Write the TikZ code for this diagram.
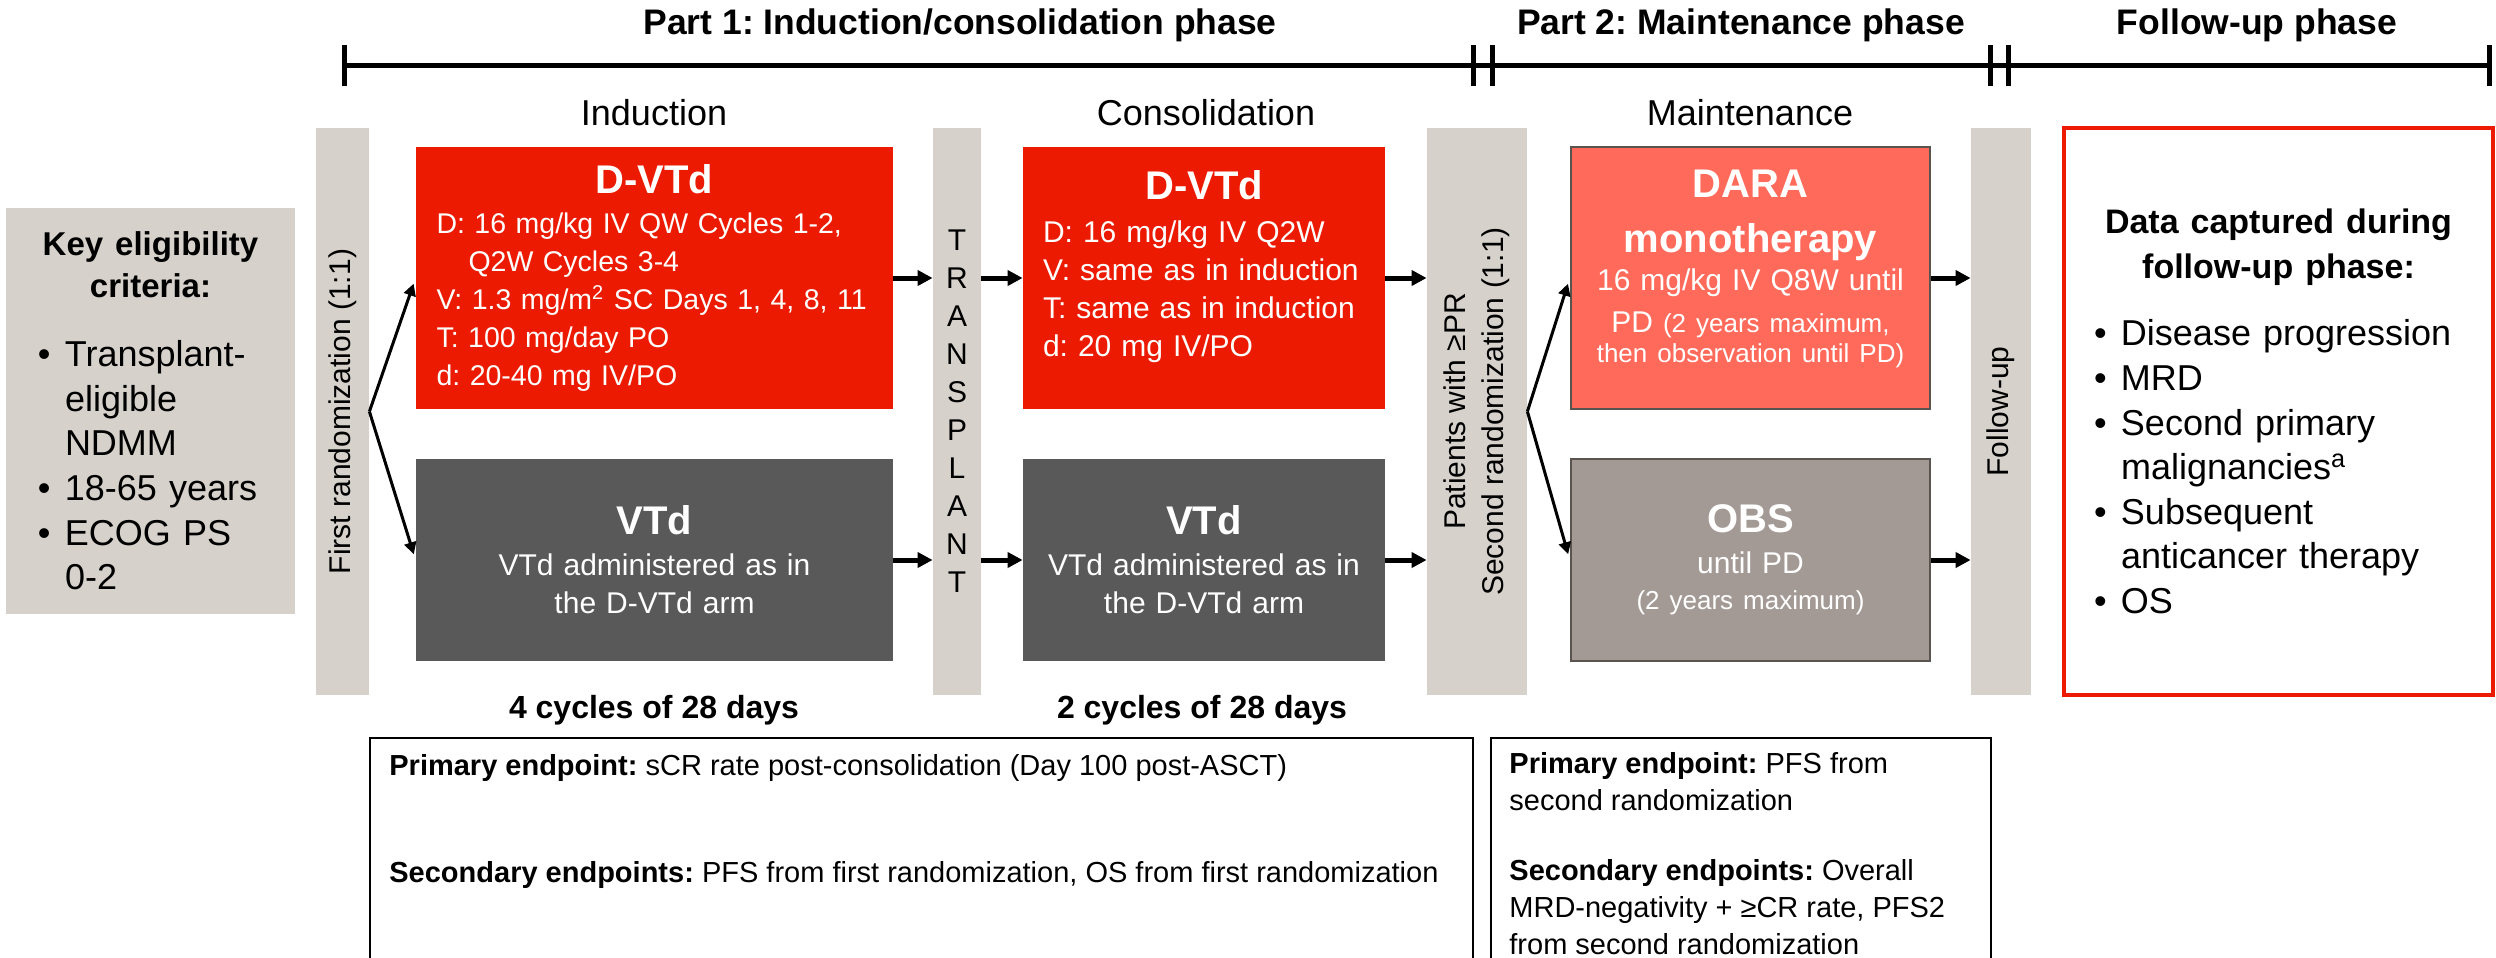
\documentclass[tikz,border=0pt]{standalone}
\usepackage{fontspec}
\setmainfont{Liberation Sans}
\usepackage{tikz}
\usetikzlibrary{arrows.meta}
\frenchspacing

\definecolor{jred}{RGB}{235,26,0}
\definecolor{barfill}{RGB}{214,209,203}
\definecolor{armgray}{RGB}{89,89,89}
\definecolor{darafill}{RGB}{255,106,90}
\definecolor{obsfill}{RGB}{163,154,149}
\definecolor{edgegray}{RGB}{90,84,80}

\newcommand{\bodyfont}{\fontsize{15}{19}\selectfont}
\newcommand{\boxtitle}{\fontsize{20}{24}\selectfont\bfseries}
\newcommand{\smallfont}{\fontsize{13}{15}\selectfont}
\newcommand{\headfont}{\fontsize{18}{22}\selectfont}
\newcommand{\phasefont}{\fontsize{17.75}{21}\selectfont\bfseries}
\newcommand{\cyclefont}{\fontsize{16}{20}\selectfont\bfseries}
\newcommand{\keyfont}{\fontsize{16.5}{21}\selectfont\bfseries}
\newcommand{\listfont}{\fontsize{18}{22.3}\selectfont}
\newcommand{\barfont}{\fontsize{15}{19}\selectfont}
\newcommand{\epfont}{\fontsize{14.5}{18.5}\selectfont}
\newcommand{\bul}{\makebox[13.5pt][l]{\textbullet}}

\tikzset{
  phase/.style   = {font=\phasefont, inner sep=0pt},
  stage/.style   = {font=\headfont, inner sep=0pt},
  cycles/.style  = {font=\cyclefont, inner sep=0pt},
  bar/.style     = {fill=barfill, inner sep=0pt, minimum height=283.5pt,
                    font=\barfont, align=center},
  arm/.style     = {inner sep=0pt, text=white, font=\bodyfont},
  toparm/.style  = {arm, minimum height=131pt},
  lowarm/.style  = {arm, minimum height=101pt, align=center},
  infobox/.style = {inner sep=0pt, font=\listfont, align=left},
  epbox/.style   = {draw, line width=1pt, inner sep=0pt},
  eptext/.style  = {inner sep=0pt, font=\epfont, align=left, anchor=north west},
  flow/.style    = {line width=2.5pt, -{Triangle[length=7.5pt,width=7.5pt]}},
  split/.style   = {line width=1.5pt, -{Triangle[length=6pt,width=6pt]},
                    shorten >=3pt},
  bracket/.style = {line width=2.5pt}
}

\begin{document}
\begin{tikzpicture}[x=0.5pt,y=-0.5pt]
 \useasboundingbox (0,0) rectangle (2496,958);
 \clip (0,0) rectangle (2496,958);

 % phase titles and time line
 \node[phase] (p1) at (960,25) {Part 1: Induction/consolidation phase};
 \node[phase] (p2) at (1741,25) {Part 2: Maintenance phase};
 \node[phase] (p3) at (2257,25) {Follow-up phase};
 \draw[bracket] (344,65) -- (2489,65);
 \draw[bracket] (344,45) -- (344,86) (1473,45) -- (1473,86)
   (1492,45) -- (1492,86) (1990,45) -- (1990,86)
   (2008,45) -- (2008,86) (2489,45) -- (2489,86);

 \node[stage] (ind) at (654,113) {Induction};
 \node[stage] (con) at (1206,113) {Consolidation};
 \node[stage] (mnt) at (1750,113) {Maintenance};

 % eligibility
 \node[infobox, fill=barfill, minimum width=144.5pt, minimum height=203pt,
       text width=144.5pt] (key) at (150.5,411) {%
   {\centering\keyfont Key eligibility\\criteria:\par}\vspace{12.2pt}
   \hspace*{16pt}\bul Transplant-\\
   \hspace*{29.5pt}eligible\\
   \hspace*{29.5pt}NDMM\\
   \hspace*{16pt}\bul 18-65 years\\
   \hspace*{16pt}\bul ECOG PS\\
   \hspace*{29.5pt}0-2};

 % grey bars
 \node[bar, minimum width=26.5pt] (rand1) at (342.5,411.5)
   {\rotatebox{90}{First randomization (1:1)}};
 \node[bar, minimum width=24pt] (tpl) at (957,411.5)
   {T\\R\\A\\N\\S\\P\\L\\A\\N\\T};
 \node[bar, minimum width=50pt] (rand2) at (1477,411.5)
   {\rotatebox{90}{\begin{tabular}{@{}c@{}}Patients with ≥PR\\
    Second randomization (1:1)\end{tabular}}};
 \node[bar, minimum width=30pt] (fup) at (2001,411.5)
   {\rotatebox{90}{Follow-up}};

 % induction
 \node[toparm, fill=jred, minimum width=238.5pt, text width=218pt,
       align=left, font=\fontsize{14.25}{19}\selectfont]
   (dvtd1) at (654.5,278) {%
   {\centering\boxtitle D-VTd\par}\vspace{1pt}
   D: 16 mg/kg IV QW Cycles 1-2,\\
   \hspace*{16pt}Q2W Cycles 3-4\\
   \mbox{V: 1.3 mg/m\textsuperscript{2} SC Days 1, 4, 8, 11}\\
   T: 100 mg/day PO\\
   d: 20-40 mg IV/PO};
 \node[lowarm, fill=armgray, minimum width=238.5pt, text width=225pt]
   (vtd1) at (654.5,560) {%
   {\boxtitle VTd\par}\vspace{1.5pt}
   VTd administered as in\\the D-VTd arm};
 \node[cycles] (cyc1) at (654,710) {4 cycles of 28 days};

 % consolidation
 \node[toparm, fill=jred, minimum width=181pt, text width=161pt,
       align=left] (dvtd2) at (1204,278) {%
   {\centering\boxtitle D-VTd\par}\vspace{2.5pt}
   D: 16 mg/kg IV Q2W\\
   V: same as in induction\\
   T: same as in induction\\
   d: 20 mg IV/PO\rule[-14pt]{0pt}{14pt}};
 \node[lowarm, fill=armgray, minimum width=181pt, text width=175pt]
   (vtd2) at (1204,560) {%
   {\boxtitle VTd\par}\vspace{1.5pt}
   VTd administered as in\\the D-VTd arm};
 \node[cycles] (cyc2) at (1202,710) {2 cycles of 28 days};

 % maintenance
 \node[toparm, fill=darafill, draw=edgegray, line width=1.2pt,
       minimum width=179.5pt, text width=172pt, align=center]
   (dara) at (1750.5,278) {%
   {\boxtitle\fontsize{20}{27.5}\selectfont DARA\\monotherapy\par}
   16 mg/kg IV Q8W until\\[2pt]
   PD {\smallfont (2 years maximum,}\par
   {\smallfont then observation until PD)\rule[-12pt]{0pt}{12pt}\par}};
 \node[lowarm, fill=obsfill, draw=edgegray, line width=1.2pt,
       minimum width=179.5pt, text width=172pt] (obs) at (1750.5,560) {%
   {\boxtitle OBS\par}\vspace{1.5pt}
   until PD\par
   {\smallfont\fontsize{13}{18}\selectfont (2 years maximum)\par}};

 % follow-up data
 \node[infobox, draw=jred, line width=2.25pt, minimum width=214.5pt,
       minimum height=283.5pt, text width=214.5pt] (data) at (2278.5,411.5) {%
   {\centering\bfseries\fontsize{17}{22.5}\selectfont
    Data captured during\\follow-up phase:\par}\vspace{11.25pt}
   \hspace*{15pt}\bul Disease progression\\
   \hspace*{15pt}\bul MRD\\
   \hspace*{15pt}\bul Second primary\\
   \hspace*{28.5pt}malignancies\textsuperscript{a}\\
   \hspace*{15pt}\bul Subsequent\\
   \hspace*{28.5pt}anticancer therapy\\
   \hspace*{15pt}\bul OS};

 % endpoints
 \node[epbox, minimum width=551.5pt, minimum height=130pt,
       anchor=north west] (ep1) at (369,737) {};
 \node[eptext] (ep1txt) at (389,754) {%
   \textbf{Primary endpoint:} sCR rate post-consolidation (Day 100 post-ASCT)\\[35pt]
   \textbf{Secondary endpoints:} PFS from first randomization, OS from first randomization};
 \node[epbox, minimum width=250pt, minimum height=130pt,
       anchor=north west] (ep2) at (1490,737) {};
 \node[eptext] (ep2txt) at (1509,752) {%
   \textbf{Primary endpoint:} PFS from\\
   second randomization\\[16.5pt]
   \textbf{Secondary endpoints:} Overall\\
   MRD-negativity + ≥CR rate, PFS2\\
   from second randomization};

 % connectors
 \draw[split] (rand1.east) -- (dvtd1.west);
 \draw[split] (rand1.east) -- (vtd1.west);
 \draw[flow] (dvtd1.east) -- (dvtd1.east -| tpl.west);
 \draw[flow] (vtd1.east) -- (vtd1.east -| tpl.west);
 \draw[flow] (tpl.east |- dvtd2.west) -- (dvtd2.west);
 \draw[flow] (tpl.east |- vtd2.west) -- (vtd2.west);
 \draw[flow] (dvtd2.east) -- (dvtd2.east -| rand2.west);
 \draw[flow] (vtd2.east) -- (vtd2.east -| rand2.west);
 \draw[split] (rand2.east) -- (dara.west);
 \draw[split] (rand2.east) -- (obs.west);
 \draw[flow] (dara.east) -- (dara.east -| fup.west);
 \draw[flow] (obs.east) -- (obs.east -| fup.west);
\end{tikzpicture}
\end{document}
